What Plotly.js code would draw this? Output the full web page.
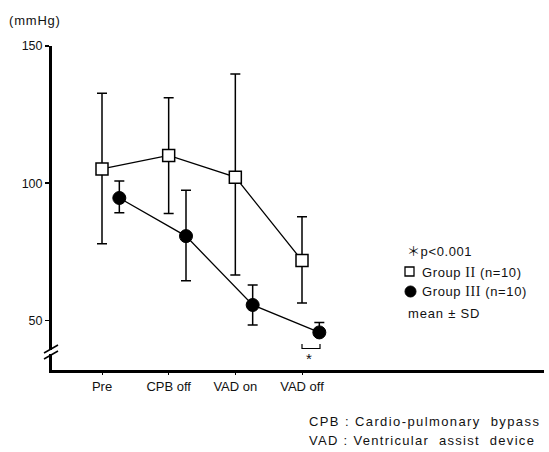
<!DOCTYPE html>
<html>
<head>
<meta charset="utf-8">
<script src="https://cdn.plot.ly/plotly-3.0.1.min.js"></script>
<style>
html,body{margin:0;padding:0;background:#fff;}
#chart{width:549px;height:452px;}
</style>
</head>
<body>
<div id="chart"></div>
<script>
// ---- data ----
var categories = ["Pre", "CPB off", "VAD on", "VAD off"];
var group2Mean = [105.2, 110.1, 102.2, 71.8];
var group2SDPlus = [27.6, 21.0, 37.6, 16.0];
var group2SDMinus = [27.3, 21.2, 35.7, 15.5];
var group3Mean = [94.6, 80.7, 55.6, 45.6];
var group3SDPlus = [6.2, 16.7, 7.3, 3.6];
var group3SDMinus = [5.4, 16.3, 7.3, 0];
var yTickVals = [50, 100, 150];

var idx = categories.map(function (c, i) { return i; });
var offset3 = 0.26;
var x2 = idx.slice();
var x3 = idx.map(function (i) { return i + offset3; });

var FONT = "Liberation Sans, Arial, sans-serif";

var traceGroup2 = {
  x: x2, y: group2Mean, type: "scatter", mode: "lines+markers",
  name: "Group II (n=10)",
  line: {color: "#000", width: 1.3},
  marker: {symbol: "square", size: 12, color: "#fff", line: {color: "#000", width: 1.5}},
  error_y: {type: "data", symmetric: false, array: group2SDPlus, arrayminus: group2SDMinus,
            color: "#000", thickness: 1.5, width: 5},
  showlegend: false, cliponaxis: false
};
var traceGroup3 = {
  x: x3, y: group3Mean, type: "scatter", mode: "lines+markers",
  name: "Group III (n=10)",
  line: {color: "#000", width: 1.3},
  marker: {symbol: "circle", size: 13, color: "#000", line: {color: "#000", width: 1}},
  error_y: {type: "data", symmetric: false, array: group3SDPlus, arrayminus: group3SDMinus,
            color: "#000", thickness: 1.5, width: 5},
  showlegend: false, cliponaxis: false
};

var L = 52, R = 5, T = 46, B = 82, W = 549, H = 452;
var pw = W - L - R, ph = H - T - B;
function px(xp) { return (xp - L) / pw; }
function py(yp) { return (H - B - yp) / ph; }

function sp(s, ls) { return '<span style="letter-spacing:' + ls + 'px">' + s + '</span>'; }
var serif = '<span style="font-family:Liberation Serif, Times New Roman, serif;font-size:14px">';
var cjk = '<span style="font-family:Noto Sans CJK JP">';

var annotations = [
  {text: sp("(mmHg)", 0.8), x: px(7), y: py(20), xanchor: "left", yanchor: "middle", font: {size: 13}},
  {text: sp(cjk + "＊</span>p&lt;0.001", 0.6), x: px(405), y: py(251), xanchor: "left", yanchor: "middle"},
  {text: sp("Group " + serif + "II</span> (n=10)", 0.6), x: px(420), y: py(272), xanchor: "left", yanchor: "middle"},
  {text: sp("Group " + serif + "III</span> (n=10)", 0.6), x: px(420), y: py(291), xanchor: "left", yanchor: "middle"},
  {text: sp("mean ± SD", 0.8), x: px(406), y: py(313), xanchor: "left", yanchor: "middle"},
  {text: "*", x: px(309), y: py(358), xanchor: "center", yanchor: "middle", font: {size: 15}},
  {text: sp("CPB : Cardio-pulmonary  bypass", 1.4), x: px(307), y: py(421), xanchor: "left", yanchor: "middle"},
  {text: sp("VAD : Ventricular  assist  device", 1.3), x: px(307), y: py(440), xanchor: "left", yanchor: "middle"}
].map(function (a) {
  var f = Object.assign({family: FONT, size: 13, color: "#111"}, a.font || {});
  var o = Object.assign({xref: "paper", yref: "paper", showarrow: false}, a);
  o.font = f;
  return o;
});

var shapes = [
  // legend symbols
  {type: "rect", xref: "paper", yref: "paper", x0: px(405), x1: px(414), y0: py(276), y1: py(267),
   line: {color: "#000", width: 1.3}, fillcolor: "#fff"},
  {type: "circle", xref: "paper", yref: "paper", x0: px(405), x1: px(416), y0: py(297), y1: py(286),
   line: {color: "#000", width: 1}, fillcolor: "#000"},
  // axis break: gap and slashes
  {type: "rect", xref: "paper", yref: "paper", x0: px(49), x1: px(56), y0: py(354), y1: py(350),
   line: {width: 0}, fillcolor: "#fff"},
  {type: "line", xref: "paper", yref: "paper", x0: px(44), y0: py(353), x1: px(58), y1: py(345),
   line: {color: "#000", width: 1.5}},
  {type: "line", xref: "paper", yref: "paper", x0: px(44), y0: py(359), x1: px(58), y1: py(351),
   line: {color: "#000", width: 1.5}},
  // significance bracket under VAD off
  {type: "path", xref: "paper", yref: "paper",
   path: "M " + px(302) + "," + py(344) + " L " + px(302) + "," + py(348.5) + " L " + px(320) + "," + py(348.5) + " L " + px(320) + "," + py(344),
   line: {color: "#000", width: 1.2}}
];

var layout = {
  width: W, height: H,
  margin: {l: L, r: R, t: T, b: B, pad: 0},
  paper_bgcolor: "#fff", plot_bgcolor: "#fff",
  font: {family: FONT, size: 12, color: "#111"},
  xaxis: {
    range: [-0.75, 6.63], tickmode: "array", tickvals: idx, ticktext: categories,
    showline: true, linecolor: "#000", linewidth: 3, mirror: false,
    ticks: "outside", ticklen: 2, tickwidth: 1, tickcolor: "#000",
    showgrid: false, zeroline: false, fixedrange: true,
    tickfont: {family: FONT, size: 13, color: "#111"}
  },
  yaxis: {
    range: [31.9, 150], tickmode: "array", tickvals: yTickVals,
    showline: true, linecolor: "#000", linewidth: 3,
    ticks: "outside", ticklen: 4, tickwidth: 1.5, tickcolor: "#000",
    showgrid: false, zeroline: false, fixedrange: true,
    tickfont: {family: FONT, size: 12.5, color: "#111"}
  },
  annotations: annotations,
  shapes: shapes,
  showlegend: false
};

Plotly.newPlot("chart", [traceGroup2, traceGroup3], layout, {staticPlot: true, displayModeBar: false});
</script>
</body>
</html>
